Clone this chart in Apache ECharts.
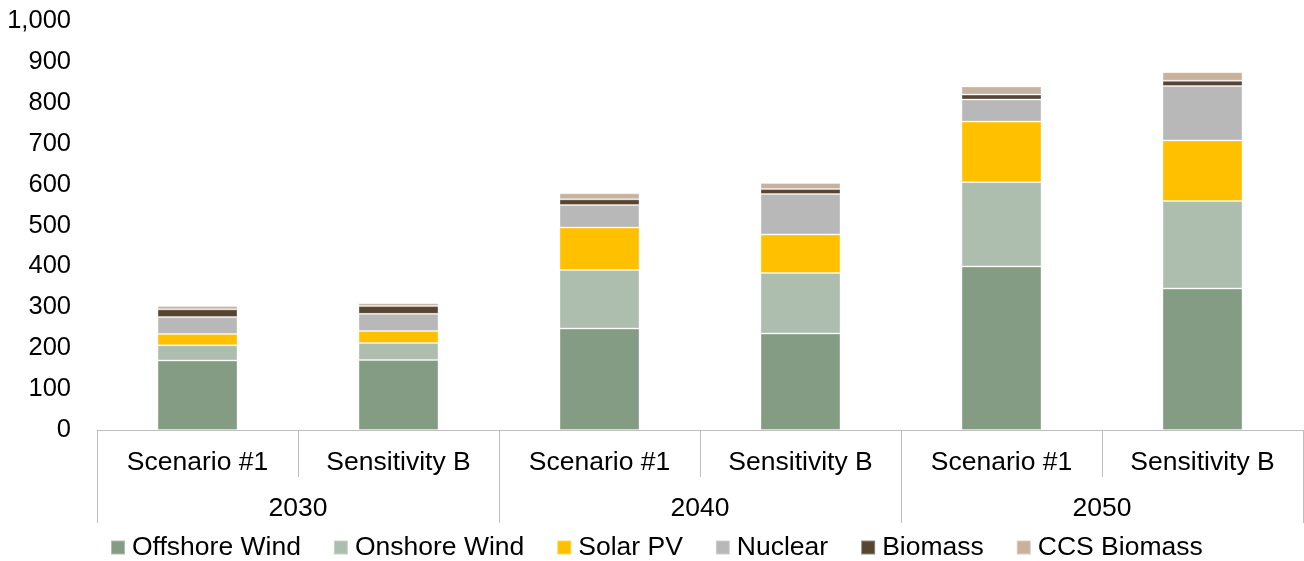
<!DOCTYPE html>
<html>
<head>
<meta charset="utf-8">
<script src="https://cdn.jsdelivr.net/npm/echarts@6/dist/echarts.min.js"></script>
<style>
html,body{margin:0;padding:0;background:#fff;}
#chart{width:1304px;height:561px;}
</style>
</head>
<body>
<div id="chart"></div>
<script>
// categories
var subCats = ['Scenario #1','Sensitivity B','Scenario #1','Sensitivity B','Scenario #1','Sensitivity B'];
var years = ['2030','2040','2050'];
// series values
var offshoreWind = [170, 171, 248, 236, 400, 346];
var onshoreWind  = [37, 42, 143, 148, 206, 214];
var solarPV      = [28, 29, 104, 94, 148, 148];
var nuclear      = [41, 42, 55, 99, 54, 133];
var biomass      = [19, 19, 14, 12, 12, 13];
var ccsBiomass   = [8, 7, 15, 15, 20, 21];
var yTicks = [0, 100, 200, 300, 400, 500, 600, 700, 800, 900, 1000];

var fontFam = '"Liberation Sans", Arial, sans-serif';
var gridCol = '#BFBFBF';

function mkSeries(name, data, color){
	return {
		name: name,
		type: 'bar',
		stack: 'total',
		barWidth: 80,
		data: data,
		itemStyle: {color: color, borderColor: 'rgba(255,255,255,0.35)', borderWidth: 1},
		emphasis: {disabled: true}
	};
}

var myChart = echarts.init(document.getElementById('chart'), null, {renderer: 'canvas'});
var option = {
	animation: false,
	backgroundColor: '#fff',
	textStyle: {fontFamily: fontFam},
	grid: {left: 97, right: 1, top: 21, bottom: 131, containLabel: false},
	legend: {
		left: 105,
		top: 529,
		itemWidth: 14,
		itemHeight: 14,
		itemGap: 32,
		icon: 'rect',
		textStyle: {fontSize: 26.5, color: '#000', fontFamily: fontFam, padding: [0, 0, 0, 2]},
		data: ['Offshore Wind','Onshore Wind','Solar PV','Nuclear','Biomass','CCS Biomass']
	},
	xAxis: [{
		type: 'category',
		data: subCats,
		position: 'bottom',
		axisLine: {show: true, lineStyle: {color: gridCol, width: 1}},
		axisTick: {show: true, interval: 0, length: 47, lineStyle: {color: gridCol}},
		axisLabel: {interval: 0, margin: 19, fontSize: 26.5, color: '#000', fontFamily: fontFam}
	}, {
		type: 'category',
		data: years,
		position: 'bottom',
		axisLine: {show: false},
		axisTick: {show: true, interval: 0, length: 93, lineStyle: {color: gridCol}},
		axisLabel: {interval: 0, margin: 65, fontSize: 26.5, color: '#000', fontFamily: fontFam}
	}],
	yAxis: {
		type: 'value',
		min: yTicks[0],
		max: yTicks[yTicks.length - 1],
		interval: 100,
		axisLine: {show: false},
		axisTick: {show: false},
		splitLine: {show: false},
		axisLabel: {
			margin: 26,
			fontSize: 25.5,
			color: '#000',
			fontFamily: fontFam,
			formatter: function(v){ return v.toLocaleString('en-US'); }
		}
	},
	series: [
		mkSeries('Offshore Wind', offshoreWind, '#849C84'),
		mkSeries('Onshore Wind', onshoreWind, '#ADBDAE'),
		mkSeries('Solar PV', solarPV, '#FFC000'),
		mkSeries('Nuclear', nuclear, '#B8B8B8'),
		mkSeries('Biomass', biomass, '#564533'),
		mkSeries('CCS Biomass', ccsBiomass, '#C8B29E')
	]
};
myChart.setOption(option);
</script>
</body>
</html>
